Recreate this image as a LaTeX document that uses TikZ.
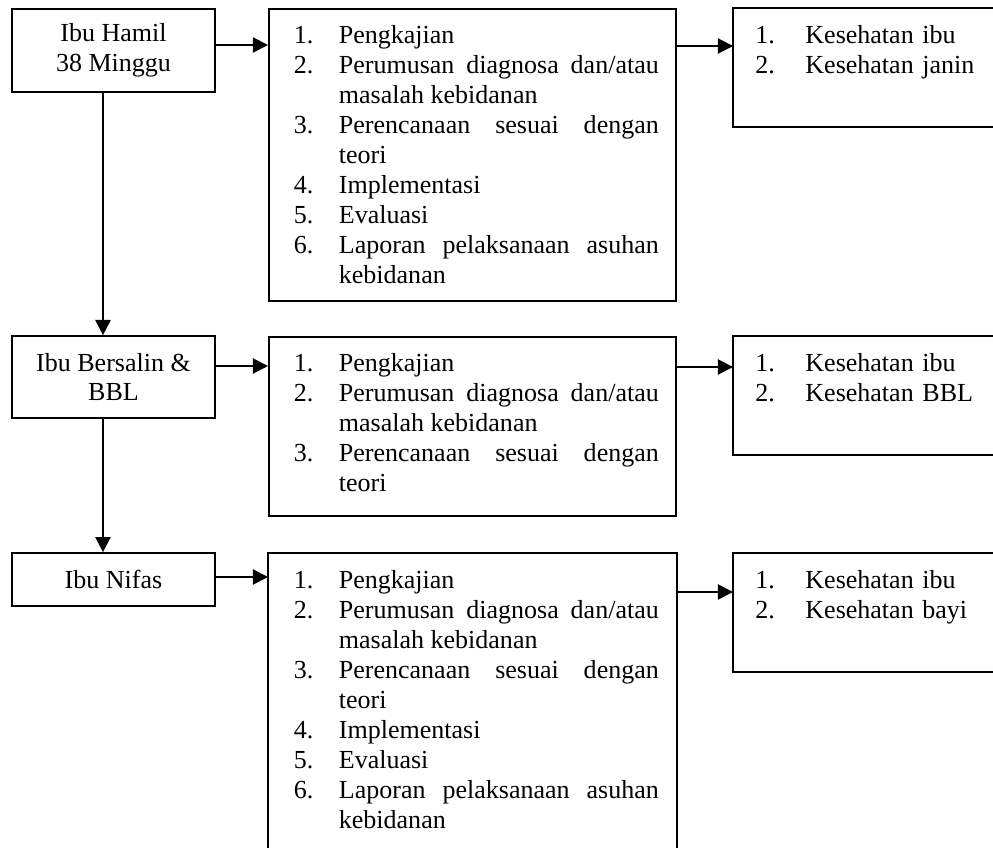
\documentclass[tikz,border=0pt]{standalone}
\usepackage{fontspec}
\setmainfont{Liberation Serif}
\usetikzlibrary{arrows.meta}

\newlength{\listin}
\newlength{\listhang}
\newlength{\listright}
\newcommand{\itm}[2]{\leftskip=\listin\rightskip=\listright\hangindent=\listhang\hangafter=1\noindent\makebox[\listhang][l]{#1}#2\par}

\hyphenpenalty=10000
\tolerance=10000

\begin{document}
\begin{tikzpicture}[x=0.4613pt, y=-0.4613pt,
    font=\fontsize{12}{13.8}\selectfont,
    box/.style={line width=0.8pt},
    stage/.style={draw, box, minimum width=93.6pt, inner sep=0pt, align=center},
    steps/.style={draw, box, anchor=north west, inner sep=0pt, text width=187.7pt, align=justify, text height=16.1pt,
        execute at begin node={\setlength{\listin}{11.5pt}\setlength{\listhang}{20.8pt}\setlength{\listright}{7.8pt}}},
    result/.style={anchor=north west, inner sep=0pt, text width=119.9pt, align=left, text height=16.1pt, text depth=38.5pt,
        execute at begin node={\setlength{\listin}{10.1pt}\setlength{\listhang}{23.1pt}\setlength{\listright}{0pt}}},
    arr/.style={-{Triangle[length=7pt,width=7pt]}, line width=0.9pt}]
    \useasboundingbox (0,0) rectangle (993,848);

    % Ibu Hamil
    \node[stage, minimum height=38.3pt] (hamil) at (113.5,50.5) {Ibu Hamil\\38 Minggu};
    \node[steps, text depth=118.6pt] (asuhan1) at (268,8) {%
        \itm{1.}{Pengkajian}
        \itm{2.}{Perumusan diagnosa dan/atau masalah kebidanan}
        \itm{3.}{Perencanaan sesuai dengan teori}
        \itm{4.}{Implementasi}
        \itm{5.}{Evaluasi}
        \itm{6.}{Laporan pelaksanaan asuhan kebidanan}};
    \node[result] (hasil1) at (733,8) {\itm{1.}{Kesehatan ibu}\itm{2.}{Kesehatan janin}};
    \draw[box] (hasil1.north east) -- (hasil1.north west) -- (hasil1.south west) -- (hasil1.south east);

    \draw[arr] (hamil.east |- 0,45) -- (asuhan1.west |- 0,45);
    \draw[arr] (asuhan1.east |- 0,46) -- (hasil1.west |- 0,46);

    % Ibu Bersalin & BBL
    \node[stage, minimum height=37.8pt] (bersalin) at (113.5,377) {Ibu Bersalin \&\\BBL};
    \node[steps, text depth=66.4pt] (asuhan2) at (268,336) {%
        \itm{1.}{Pengkajian}
        \itm{2.}{Perumusan diagnosa dan/atau masalah kebidanan}
        \itm{3.}{Perencanaan sesuai dengan teori}};
    \node[result] (hasil2) at (733,336) {\itm{1.}{Kesehatan ibu}\itm{2.}{Kesehatan BBL}};
    \draw[box] (hasil2.north east) -- (hasil2.north west) -- (hasil2.south west) -- (hasil2.south east);

    \draw[arr] (hamil.south -| 103,0) -- (bersalin.north -| 103,0);
    \draw[arr] (bersalin.east |- 0,366) -- (asuhan2.west |- 0,366);
    \draw[arr] (asuhan2.east |- 0,367) -- (hasil2.west |- 0,367);

    % Ibu Nifas
    \node[stage, minimum height=24.4pt] (nifas) at (113.5,579.5) {Ibu Nifas};
    \node[steps, draw=none, text depth=119.9pt] (asuhan3) at (268,553) {%
        \itm{1.}{Pengkajian}
        \itm{2.}{Perumusan diagnosa dan/atau masalah kebidanan}
        \itm{3.}{Perencanaan sesuai dengan teori}
        \itm{4.}{Implementasi}
        \itm{5.}{Evaluasi}
        \itm{6.}{Laporan pelaksanaan asuhan kebidanan}};
    \draw[box] (asuhan3.south west) -- (asuhan3.north west) -- (asuhan3.north east) -- (asuhan3.south east);
    \node[result] (hasil3) at (733,553) {\itm{1.}{Kesehatan ibu}\itm{2.}{Kesehatan bayi}};
    \draw[box] (hasil3.north east) -- (hasil3.north west) -- (hasil3.south west) -- (hasil3.south east);

    \draw[arr] (bersalin.south -| 103,0) -- (nifas.north -| 103,0);
    \draw[arr] (nifas.east |- 0,577) -- (asuhan3.west |- 0,577);
    \draw[arr] (asuhan3.east |- 0,592) -- (hasil3.west |- 0,592);
\end{tikzpicture}
\end{document}
